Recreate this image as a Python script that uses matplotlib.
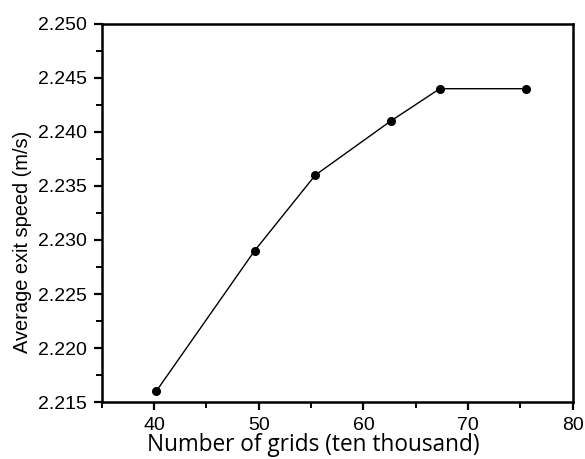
import matplotlib
matplotlib.use("Agg")
import matplotlib.pyplot as plt
from matplotlib.ticker import MultipleLocator, FormatStrFormatter

grids = [40.2, 49.6, 55.4, 62.6, 67.3, 75.5]
speed = [2.216, 2.229, 2.236, 2.241, 2.244, 2.244]

fig = plt.figure(figsize=(5.85, 4.59), dpi=100)
ax = fig.add_axes([0.174, 0.124, 0.805, 0.824])
ax.plot(grids, speed, color="black", linewidth=1.0, marker="o", markersize=5.5)
ax.set_xlim(35, 80)
ax.set_ylim(2.215, 2.250)
ax.xaxis.set_major_locator(MultipleLocator(10))
ax.xaxis.set_minor_locator(MultipleLocator(5))
ax.yaxis.set_major_locator(MultipleLocator(0.005))
ax.yaxis.set_minor_locator(MultipleLocator(0.0025))
ax.yaxis.set_major_formatter(FormatStrFormatter("%.3f"))
for s in ax.spines.values():
    s.set_linewidth(1.8)
ax.tick_params(which="major", direction="out", length=6, width=1.6, labelsize=14,
               top=False, right=False, pad=5)
ax.tick_params(which="minor", direction="out", length=4, width=1.4, top=False, right=False)
for lab in ax.get_xticklabels() + ax.get_yticklabels():
    lab.set_fontfamily("Liberation Sans")
ax.set_xlabel("Number of grids (ten thousand)", fontsize=16.3, fontfamily="Open Sans")
ax.xaxis.set_label_coords(0.448, -0.130)
ax.xaxis.label.set_va("baseline")
ax.set_ylabel("Average exit speed (m/s)", fontsize=14.4, fontfamily="Liberation Sans")
ax.yaxis.set_label_coords(-0.148, 0.423)
fig.savefig("out.png", dpi=100)
